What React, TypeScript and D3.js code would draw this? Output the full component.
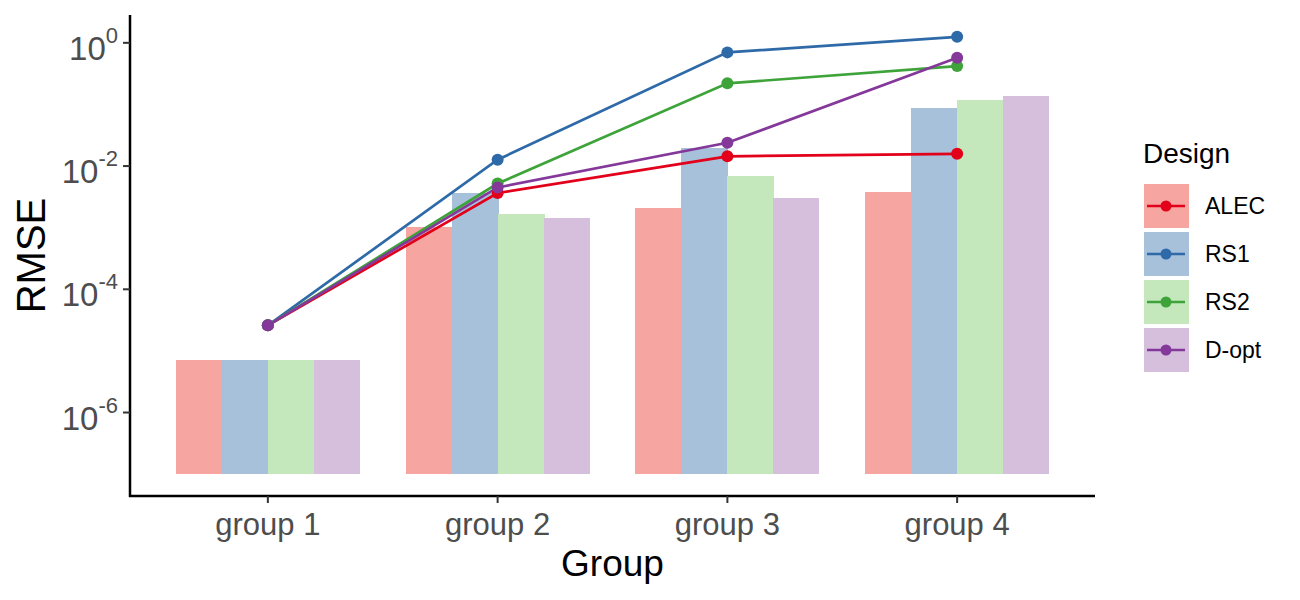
import * as d3 from 'd3';
import { useEffect, useRef } from 'react';

const groups = ['group 1', 'group 2', 'group 3', 'group 4'];
const designs = ['ALEC', 'RS1', 'RS2', 'D-opt'];

// bar heights (RMSE, per design across groups)
const barALEC = [7e-6, 1.02e-3, 2.06e-3, 3.75e-3];
const barRS1 = [7e-6, 3.6e-3, 0.0194, 0.0863];
const barRS2 = [7e-6, 1.64e-3, 6.8e-3, 0.116];
const barDopt = [7e-6, 1.42e-3, 2.99e-3, 0.135];

// line + point values
const lineALEC = [2.6e-5, 3.65e-3, 0.0144, 0.0158];
const lineRS1 = [2.6e-5, 0.0127, 0.7, 1.25];
const lineRS2 = [2.6e-5, 5.2e-3, 0.22, 0.419];
const lineDopt = [2.6e-5, 4.5e-3, 0.0239, 0.571];

const yTicks = [0, -2, -4, -6];
const barBase = 1e-7;

const lineColors = ['#e2001a', '#2e6aa8', '#3ea43a', '#84389a'];
const barColors = ['#f6a5a1', '#a7c1db', '#c4e8bc', '#d5bfdc'];

const FONT = '"Liberation Sans", Arial, sans-serif';

function App() {
    const svgRef = useRef<SVGSVGElement>(null);

    useEffect(() => {
        if (!svgRef.current) return;
        const svg = d3.select(svgRef.current);
        svg.selectAll('*').remove();

        const width = 1300;
        const height = 600;
        const left = 130, right = 1095, top = 15, bottom = 496;

        const bars = [barALEC, barRS1, barRS2, barDopt];
        const lines = [lineALEC, lineRS1, lineRS2, lineDopt];

        svg.attr('width', width).attr('height', height).style('font-family', FONT);

        const x = d3.scaleBand().domain(groups).range([left, right]).paddingInner(0.2).paddingOuter(0.2);
        const xInner = d3.scaleBand().domain(designs).range([0, x.bandwidth()]);

        // log scale, range expanded 5% like ggplot
        const lo = Math.log10(barBase);
        const hi = Math.log10(d3.max(lines.flat())!);
        const pad = (hi - lo) * 0.05;
        const y = d3.scaleLog().domain([10 ** (lo - pad), 10 ** (hi + pad)]).range([bottom, top]);

        // bars (last one in each group not widened)
        const barG = svg.append('g').attr('shape-rendering', 'crispEdges');
        designs.forEach((d, i) => {
            barG.selectAll(null)
                .data(bars[i])
                .join('rect')
                .attr('x', (_v, j) => x(groups[j])! + xInner(d)!)
                .attr('width', xInner.bandwidth() + (i < designs.length - 1 ? 1 : 0))
                .attr('y', (v) => y(v))
                .attr('height', (v) => y(barBase) - y(v))
                .attr('fill', barColors[i]);
        });

        // lines then points
        const cx = (j: number) => x(groups[j])! + x.bandwidth() / 2;
        const line = d3.line<number>().x((_v, j) => cx(j)).y((v) => y(v));
        designs.forEach((_d, i) => {
            svg.append('path')
                .datum(lines[i])
                .attr('d', line)
                .attr('fill', 'none')
                .attr('stroke', lineColors[i])
                .attr('stroke-width', 2.7);
        });
        designs.forEach((_d, i) => {
            svg.append('g')
                .selectAll('circle')
                .data(lines[i])
                .join('circle')
                .attr('cx', (_v, j) => cx(j))
                .attr('cy', (v) => y(v))
                .attr('r', 6)
                .attr('fill', lineColors[i]);
        });

        // axes
        svg.append('line').attr('x1', left).attr('x2', left).attr('y1', top).attr('y2', bottom + 1)
            .attr('stroke', '#000').attr('stroke-width', 2.5);
        svg.append('line').attr('x1', left - 1).attr('x2', right).attr('y1', bottom).attr('y2', bottom)
            .attr('stroke', '#000').attr('stroke-width', 2.5);

        const yt = svg.append('g');
        yTicks.forEach((e) => {
            const ty = y(10 ** e);
            yt.append('line').attr('x1', left - 7).attr('x2', left).attr('y1', ty).attr('y2', ty)
                .attr('stroke', '#333').attr('stroke-width', 2);
            const t = yt.append('text')
                .attr('x', left - 12)
                .attr('y', ty + 17)
                .attr('text-anchor', 'end')
                .attr('fill', '#4d4d4d')
                .attr('font-size', 33);
            t.append('tspan').text('10');
            t.append('tspan').attr('dy', -17).attr('font-size', 22).text(String(e));
        });

        const xt = svg.append('g');
        groups.forEach((g, j) => {
            xt.append('line').attr('x1', cx(j)).attr('x2', cx(j)).attr('y1', bottom).attr('y2', bottom + 7)
                .attr('stroke', '#333').attr('stroke-width', 2);
            xt.append('text')
                .attr('x', cx(j))
                .attr('y', 535)
                .attr('text-anchor', 'middle')
                .attr('fill', '#4d4d4d')
                .attr('font-size', 31)
                .text(g);
        });

        svg.append('text')
            .attr('x', (left + right) / 2)
            .attr('y', 576)
            .attr('text-anchor', 'middle')
            .attr('font-size', 37)
            .text('Group');

        svg.append('text')
            .attr('transform', `translate(45,${(top + bottom) / 2}) rotate(-90)`)
            .attr('text-anchor', 'middle')
            .attr('font-size', 40)
            .text('RMSE');

        // legend
        const lg = svg.append('g').attr('transform', 'translate(1144,184)');
        lg.append('text').attr('x', -1).attr('y', -21).attr('font-size', 28).text('Design');
        designs.forEach((d, i) => {
            const row = lg.append('g').attr('transform', `translate(0,${i * 48})`);
            row.append('rect').attr('width', 45).attr('height', 44).attr('fill', barColors[i]);
            row.append('line').attr('x1', 3).attr('x2', 41).attr('y1', 22).attr('y2', 22)
                .attr('stroke', lineColors[i]).attr('stroke-width', 2.7);
            row.append('circle').attr('cx', 22).attr('cy', 22).attr('r', 5.5).attr('fill', lineColors[i]);
            row.append('text').attr('x', 61).attr('y', 30).attr('font-size', 23).text(d);
        });
    }, []);

    return <svg ref={svgRef} style={{ display: 'block', position: 'absolute', left: 0, top: 0 }} />;
}

export default App;
